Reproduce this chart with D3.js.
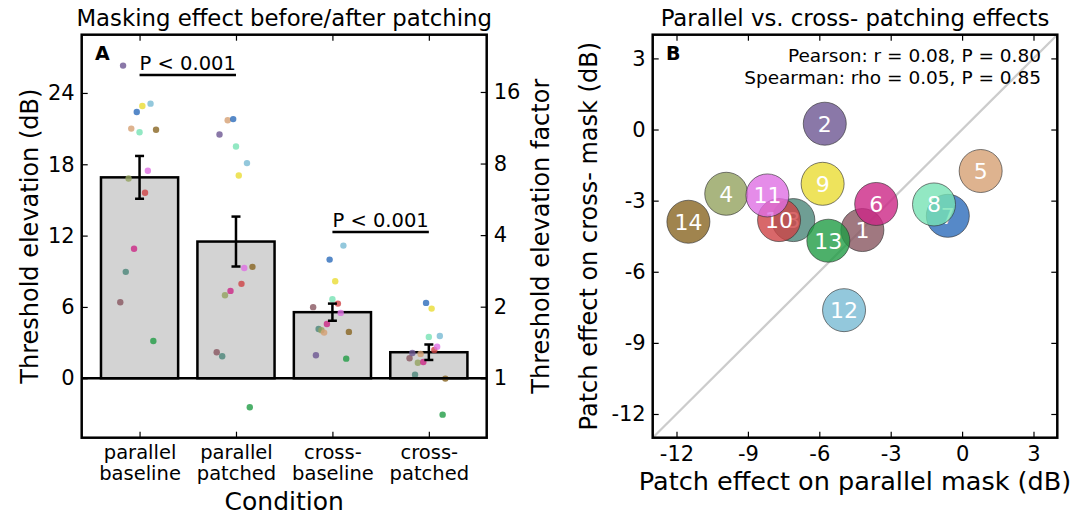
<!DOCTYPE html>
<html>
<head>
<meta charset="utf-8">
<script src="https://cdn.jsdelivr.net/npm/d3@7"></script>
<style>
body { margin: 0; background: #fff; }
svg text { font-family: "DejaVu Sans", sans-serif; fill: #000; }
</style>
</head>
<body>
<svg id="fig" width="1086" height="515"></svg>
<script>
// ---- data ----
var conditions = [["parallel", "baseline"], ["parallel", "patched"], ["cross-", "baseline"], ["cross-", "patched"]];
var subjects = [1, 2, 3, 4, 5, 6, 7, 8, 9, 10, 11, 12, 13, 14];
var subjectColors = ["#885660", "#6d5692", "#4b8679", "#93a25f", "#d6a073", "#cc2786", "#2c6bba",
                     "#77e2b4", "#eadc33", "#ce4245", "#de6fe3", "#78bad3", "#209c45", "#886522"];
// horizontal offset of each subject's dot inside a bar (category units)
var jitter = [-0.2, -0.171, -0.143, -0.114, -0.086, -0.057, -0.029, 0, 0.029, 0.057, 0.086, 0.114, 0.143, 0.171];

// threshold elevation (dB) per subject
var parallelBaseline = [6.4, 26.3, 8.95, 16.8, 21.0, 10.9, 22.4, 20.7, 22.9, 15.6, 17.45, 23.1, 3.14, 20.9];
var parallelPatched  = [2.19, 20.5, 1.85, 6.98, 21.7, 7.35, 21.8, 19.5, 17.05, 7.94, 9.28, 18.1, -2.44, 9.37];
var crossBaseline    = [5.98, 1.94, 4.15, 4.04, 3.84, 4.57, 9.98, 6.65, 8.16, 6.28, 5.5, 11.16, 1.65, 3.9];
var crossPatched     = [1.68, 2.13, 0.30, 1.31, 2.05, 1.37, 6.34, 3.48, 5.86, 2.38, 2.66, 3.56, -3.06, -0.03];

var barMeans = [16.9, 11.5, 5.56, 2.19];
var barErr = [1.8, 2.1, 0.72, 0.65];

var dbTicks = [0, 6, 12, 18, 24];
var factorTicks = [1, 2, 4, 8, 16];

// significance brackets: from / to condition, level in dB
var sigBars = [
  {from: 0, to: 1, level: 25.5, label: "P < 0.001"},
  {from: 2, to: 3, level: 12.3, label: "P < 0.001"}
];

// panel B: patch effects (dB)
var parallelEffect = [-4.19, -5.77, -7.09, -9.91, 0.78, -3.61, -0.6, -1.18, -5.86, -7.69, -8.18, -4.96, -5.62, -11.5];
var crossEffect    = [-4.24, 0.245, -3.82, -2.71, -1.75, -3.14, -3.64, -3.16, -2.29, -3.82, -2.78, -7.62, -4.69, -3.89];
var effectTicks = [-12, -9, -6, -3, 0, 3];
var statsText = ["Pearson: r = 0.08, P = 0.80", "Spearman: rho = 0.05, P = 0.85"];

var svg = d3.select("#fig");
var dotAlpha = 0.8;

// ================= panel A =================
var A = {x0: 81.7, x1: 486.7, y0: 34.7, y1: 437.7};
var x = d3.scaleLinear().domain([-0.6, 3.6]).range([A.x0, A.x1]);
var y = d3.scaleLinear().domain([-5, 28.9]).range([A.y1, A.y0]);
// right hand axis is the same thing as a linear factor (20 log10)
var yFactor = d3.scaleLog().base(2)
  .domain([Math.pow(10, -5 / 20), Math.pow(10, 28.9 / 20)])
  .range([A.y1, A.y0]);

var gA = svg.append("g").attr("id", "panelA");

gA.selectAll("rect.bar").data(barMeans).enter().append("rect")
  .attr("class", "bar")
  .attr("x", function(d, i) { return x(i - 0.4); })
  .attr("width", x(0.4) - x(-0.4))
  .attr("y", function(d) { return y(d); })
  .attr("height", function(d) { return y(0) - y(d); })
  .attr("fill", "#d3d3d3")
  .attr("stroke", "#000")
  .attr("stroke-width", 2.5);

// subject dots
var series = [parallelBaseline, parallelPatched, crossBaseline, crossPatched];
series.forEach(function(vals, ci) {
  gA.selectAll("circle.c" + ci).data(vals).enter().append("circle")
    .attr("class", "c" + ci)
    .attr("cx", function(d, j) { return x(ci + jitter[j]); })
    .attr("cy", function(d) { return y(d); })
    .attr("r", 3.2)
    .attr("fill", function(d, j) { return subjectColors[j]; })
    .attr("fill-opacity", dotAlpha);
});

// zero line
gA.append("line")
  .attr("x1", A.x0).attr("x2", A.x1)
  .attr("y1", y(0)).attr("y2", y(0))
  .attr("stroke", "#000").attr("stroke-width", 2.5);

// error bars
var eb = gA.selectAll("g.err").data(barMeans).enter().append("g").attr("class", "err");
eb.append("line")
  .attr("x1", function(d, i) { return x(i); }).attr("x2", function(d, i) { return x(i); })
  .attr("y1", function(d, i) { return y(d - barErr[i]); })
  .attr("y2", function(d, i) { return y(d + barErr[i]); })
  .attr("stroke", "#000").attr("stroke-width", 2.5);
[-1, 1].forEach(function(s) {
  eb.append("line")
    .attr("x1", function(d, i) { return x(i) - 4.5; }).attr("x2", function(d, i) { return x(i) + 4.5; })
    .attr("y1", function(d, i) { return y(d + s * barErr[i]); })
    .attr("y2", function(d, i) { return y(d + s * barErr[i]); })
    .attr("stroke", "#000").attr("stroke-width", 2.5);
});

// significance brackets
sigBars.forEach(function(b) {
  gA.append("line")
    .attr("x1", x(b.from)).attr("x2", x(b.to))
    .attr("y1", y(b.level)).attr("y2", y(b.level))
    .attr("stroke", "#000").attr("stroke-width", 2.5);
  gA.append("text")
    .attr("x", (x(b.from) + x(b.to)) / 2)
    .attr("y", y(b.level) - 5.5)
    .attr("text-anchor", "middle")
    .style("font-size", "19.5px")
    .text(b.label);
});

// axes (ticks point inwards)
var axL = gA.append("g").attr("transform", "translate(" + A.x0 + ",0)")
  .call(d3.axisLeft(y).tickValues(dbTicks).tickSize(-6).tickPadding(7));
var axR = gA.append("g").attr("transform", "translate(" + A.x1 + ",0)")
  .call(d3.axisRight(yFactor).tickValues(factorTicks).tickFormat(d3.format("d")).tickSize(-6).tickPadding(7));
var axT = gA.append("g").attr("transform", "translate(0," + A.y0 + ")")
  .call(d3.axisTop(x).tickValues([0, 1, 2, 3]).tickSize(-6).tickFormat(""));
var axB = gA.append("g").attr("transform", "translate(0," + A.y1 + ")")
  .call(d3.axisBottom(x).tickValues([0, 1, 2, 3]).tickSize(-6).tickPadding(7).tickFormat(""));
// two line category labels
axB.selectAll(".tick text").attr("dy", null).each(function(d) {
  var t = d3.select(this);
  conditions[d].forEach(function(line, k) {
    t.append("tspan").attr("x", 0).attr("dy", k == 0 ? "0.71em" : "1.1em").text(line);
  });
});
axB.selectAll(".tick text").style("font-size", "19.5px");
[axL, axR].forEach(function(a) { a.selectAll(".tick text").style("font-size", "21px"); });

gA.append("rect")
  .attr("x", A.x0).attr("y", A.y0)
  .attr("width", A.x1 - A.x0).attr("height", A.y1 - A.y0)
  .attr("fill", "none").attr("stroke", "#000").attr("stroke-width", 2.5);

gA.append("text").attr("x", 95).attr("y", 60)
  .style("font-size", "19px").style("font-weight", "bold").text("A");

svg.append("text").attr("x", (A.x0 + A.x1) / 2).attr("y", 26)
  .attr("text-anchor", "middle").style("font-size", "22.8px")
  .text("Masking effect before/after patching");
svg.append("text").attr("x", (A.x0 + A.x1) / 2).attr("y", 510)
  .attr("text-anchor", "middle").style("font-size", "25px").text("Condition");
svg.append("text")
  .attr("transform", "translate(38," + (A.y0 + A.y1) / 2 + ") rotate(-90)")
  .attr("text-anchor", "middle").style("font-size", "24px")
  .text("Threshold elevation (dB)");
svg.append("text")
  .attr("transform", "translate(549," + (A.y0 + A.y1) / 2 + ") rotate(-90)")
  .attr("text-anchor", "middle").style("font-size", "24px")
  .text("Threshold elevation factor");

// ================= panel B =================
var B = {x0: 652.7, x1: 1057.3, y0: 34.7, y1: 437.7};
var ex = d3.scaleLinear().domain([-13, 4]).range([B.x0, B.x1]);
var ey = d3.scaleLinear().domain([-13, 4]).range([B.y1, B.y0]);

var gB = svg.append("g").attr("id", "panelB");

// identity line
gB.append("line")
  .attr("x1", ex(-13)).attr("y1", ey(-13))
  .attr("x2", ex(4)).attr("y2", ey(4))
  .attr("stroke", "#cccccc").attr("stroke-width", 2.2);

var bub = gB.selectAll("g.bub").data(subjects).enter().append("g").attr("class", "bub")
  .attr("transform", function(d, i) { return "translate(" + ex(parallelEffect[i]) + "," + ey(crossEffect[i]) + ")"; });
bub.append("circle")
  .attr("r", 21.5)
  .attr("fill", function(d, i) { return subjectColors[i]; })
  .attr("fill-opacity", dotAlpha)
  .attr("stroke", "#333").attr("stroke-opacity", dotAlpha).attr("stroke-width", 0.8);
bub.append("text")
  .attr("text-anchor", "middle").attr("dy", "0.36em")
  .style("font-size", "22px").style("fill", "#fff")
  .text(function(d) { return d; });

var bL = gB.append("g").attr("transform", "translate(" + B.x0 + ",0)")
  .call(d3.axisLeft(ey).tickValues(effectTicks).tickSize(-6).tickPadding(7).tickFormat(d3.format("d")));
var bB = gB.append("g").attr("transform", "translate(0," + B.y1 + ")")
  .call(d3.axisBottom(ex).tickValues(effectTicks).tickSize(-6).tickPadding(8).tickFormat(d3.format("d")));
gB.append("g").attr("transform", "translate(" + B.x1 + ",0)")
  .call(d3.axisRight(ey).tickValues(effectTicks).tickSize(-6).tickFormat(""));
gB.append("g").attr("transform", "translate(0," + B.y0 + ")")
  .call(d3.axisTop(ex).tickValues(effectTicks).tickSize(-6).tickFormat(""));
// hyphen for minus, like the original
[bL, bB].forEach(function(a) {
  a.selectAll(".tick text").style("font-size", "21px")
    .text(function(d) { return String(d); });
});

gB.append("rect")
  .attr("x", B.x0).attr("y", B.y0)
  .attr("width", B.x1 - B.x0).attr("height", B.y1 - B.y0)
  .attr("fill", "none").attr("stroke", "#000").attr("stroke-width", 2.5);

statsText.forEach(function(s, k) {
  gB.append("text").attr("x", 1041).attr("y", 62 + k * 21.5)
    .attr("text-anchor", "end").style("font-size", "18.5px").text(s);
});
gB.append("text").attr("x", 666).attr("y", 60)
  .style("font-size", "19px").style("font-weight", "bold").text("B");

svg.selectAll(".domain").remove();
svg.selectAll(".tick line").attr("stroke", "#000").attr("stroke-width", 1.2);

svg.append("text").attr("x", (B.x0 + B.x1) / 2).attr("y", 26)
  .attr("text-anchor", "middle").style("font-size", "22.8px")
  .text("Parallel vs. cross- patching effects");
svg.append("text").attr("x", (B.x0 + B.x1) / 2).attr("y", 490)
  .attr("text-anchor", "middle").style("font-size", "25.5px")
  .text("Patch effect on parallel mask (dB)");
svg.append("text")
  .attr("transform", "translate(597," + (B.y0 + B.y1) / 2 + ") rotate(-90)")
  .attr("text-anchor", "middle").style("font-size", "24px")
  .text("Patch effect on cross- mask (dB)");
</script>
</body>
</html>
